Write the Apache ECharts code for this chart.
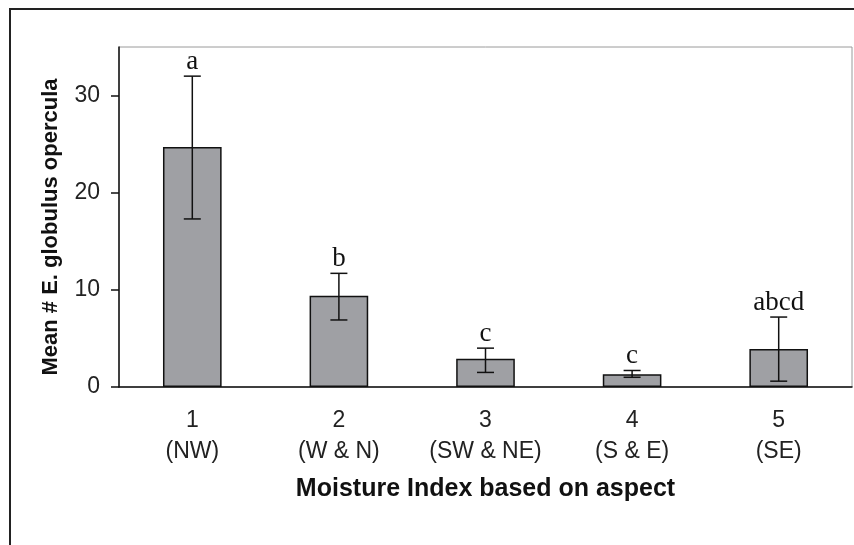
<!DOCTYPE html>
<html>
<head>
<meta charset="utf-8">
<script src="https://cdn.jsdelivr.net/npm/echarts@6/dist/echarts.min.js"></script>
<style>
html,body{margin:0;padding:0;background:#fff;}
#chart{width:854px;height:545px;}
</style>
</head>
<body>
<div id="chart"></div>
<script>
const categories = ['1\n(NW)', '2\n(W & N)', '3\n(SW & NE)', '4\n(S & E)', '5\n(SE)'];
const means = [24.7, 9.4, 2.9, 1.3, 3.9];
const errUpper = [32.0, 11.7, 4.0, 1.7, 7.2];
const errLower = [17.3, 6.9, 1.5, 1.0, 0.6];
const letters = ['a', 'b', 'c', 'c', 'abcd'];
const yTicks = [0, 10, 20, 30];

const chart = echarts.init(document.getElementById('chart'), null, {renderer: 'canvas'});
const errData = categories.map((c, i) => [i, errLower[i], errUpper[i]]);

chart.setOption({
  backgroundColor: '#fff',
  animation: false,
  graphic: [{
    type: 'rect', silent: true,
    shape: {x: 10, y: 9, width: 900, height: 600},
    style: {fill: 'none', stroke: '#222', lineWidth: 2}
  }],
  grid: {left: 119, right: 2, top: 47, bottom: 158, show: true, borderColor: '#9a9a9a', borderWidth: 1, backgroundColor: 'transparent'},
  xAxis: {
    type: 'category', data: categories,
    axisLine: {lineStyle: {color: '#111', width: 1.5}},
    axisTick: {show: false},
    axisLabel: {margin: 18, fontFamily: 'Liberation Sans', fontSize: 23, color: '#222', lineHeight: 31},
    name: 'Moisture Index based on aspect', nameLocation: 'middle', nameGap: 90,
    nameTextStyle: {fontFamily: 'Liberation Sans', fontWeight: 'bold', fontSize: 25, color: '#111'}
  },
  yAxis: {
    type: 'value', min: 0, max: 35, interval: 10,
    splitLine: {show: false},
    axisLine: {show: true, lineStyle: {color: '#111', width: 1.5}},
    axisTick: {show: true, length: 8, customValues: yTicks, lineStyle: {color: '#111', width: 1.5}},
    axisLabel: {margin: 19, fontFamily: 'Liberation Sans', fontSize: 23, color: '#222', customValues: yTicks},
    name: 'Mean # E. globulus opercula', nameLocation: 'middle', nameGap: 57,
    nameTextStyle: {fontFamily: 'Liberation Sans', fontWeight: 'bold', fontSize: 22, color: '#111', padding: [0, 20, 0, 0]}
  },
  series: [{
    type: 'bar', data: means, barWidth: '40%',
    itemStyle: {color: '#9fa0a4', borderColor: '#111', borderWidth: 1.5}
  }, {
    type: 'custom', data: errData, z: 10,
    renderItem: function (params, api) {
      const idx = api.value(0);
      const lo = api.coord([idx, api.value(1)]);
      const hi = api.coord([idx, api.value(2)]);
      const cap = 8.5;
      const ls = {stroke: '#111', lineWidth: 1.5};
      return {
        type: 'group',
        children: [
          {type: 'line', shape: {x1: hi[0], y1: hi[1], x2: lo[0], y2: lo[1]}, style: ls},
          {type: 'line', shape: {x1: hi[0] - cap, y1: hi[1], x2: hi[0] + cap, y2: hi[1]}, style: ls},
          {type: 'line', shape: {x1: lo[0] - cap, y1: lo[1], x2: lo[0] + cap, y2: lo[1]}, style: ls},
          {type: 'text', style: {text: letters[idx], x: hi[0], y: hi[1] - 1, align: 'center', verticalAlign: 'bottom',
            font: '27px "Liberation Serif"', fill: '#111'}}
        ]
      };
    }
  }]
});
</script>
</body>
</html>
